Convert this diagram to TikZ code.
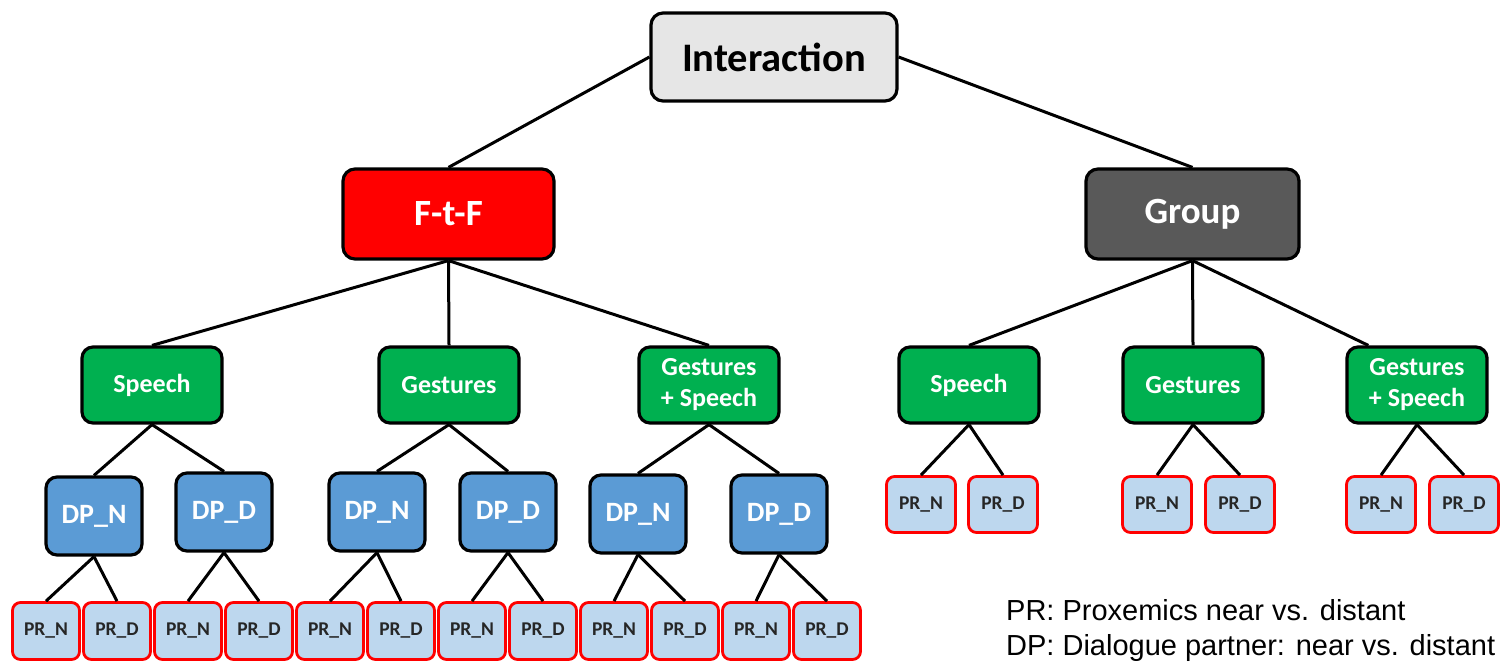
\documentclass[tikz,border=0pt]{standalone}
\usepackage{fontspec}
\setmainfont{Carlito}
\newfontfamily\legendfont{Liberation Sans}
\usetikzlibrary{calc}
\definecolor{intgray}{HTML}{E6E6E6}
\definecolor{grpgray}{HTML}{595959}
\definecolor{boxgreen}{HTML}{00B050}
\definecolor{boxblue}{HTML}{5B9BD5}
\definecolor{prblue}{HTML}{BDD7EE}
\definecolor{prred}{HTML}{FF0000}
\tikzset{
  base/.style={rectangle, rounded corners=12pt, draw=black, line width=3.2pt, inner sep=0pt, align=center},
  topbox/.style={base, minimum width=246pt, minimum height=88pt, fill=intgray, text=black,
    font=\fontsize{40.5}{45}\selectfont\bfseries},
  midbox/.style={base, minimum width=211pt, minimum height=90pt, text=white,
    font=\fontsize{37}{42}\selectfont\bfseries},
  greenbox/.style={base, rounded corners=11pt, minimum width=140pt, minimum height=76pt, fill=boxgreen, text=white,
    font=\fontsize{26}{31}\selectfont\bfseries},
  dpbox/.style={base, rounded corners=11pt, minimum width=96pt, minimum height=78pt, fill=boxblue, text=white,
    font=\fontsize{28}{32}\selectfont\bfseries},
  prbox/.style={rectangle, rounded corners=8pt, draw=prred, line width=2.8pt, fill=prblue, inner sep=0pt,
    minimum width=67pt, minimum height=57pt, text=black!85, font=\fontsize{19.5}{22}\selectfont\bfseries},
  link/.style={draw=black, line width=3pt},
}
\begin{document}
\begin{tikzpicture}[x=1pt,y=-1pt]
\useasboundingbox (0,0) rectangle (1503,662);
% top levels
\node[topbox] (int) at (774,57) {Interaction};
\node[midbox, fill=red] (ftf) at (448.5,214) {\raisebox{-2pt}{F-t-F}};
\node[midbox, fill=grpgray, minimum width=213pt] (grp) at (1192.5,214) {\raisebox{-3pt}{Group}};
% green level
\node[greenbox] (sp1) at (152,385) {Speech};
\node[greenbox] (ge1) at (449,385) {Gestures};
\node[greenbox] (gs1) at (709,385) {Gestures\\+ Speech};
\node[greenbox] (sp2) at (969,385) {Speech};
\node[greenbox] (ge2) at (1193,385) {Gestures};
\node[greenbox] (gs2) at (1417,385) {Gestures\\+ Speech};
% DP level
\node[dpbox] (dn1) at (94,516) {DP\_N};
\node[dpbox] (dd1) at (224,512) {DP\_D};
\node[dpbox] (dn2) at (377,512) {DP\_N};
\node[dpbox] (dd2) at (508,512) {DP\_D};
\node[dpbox] (dn3) at (638,514) {DP\_N};
\node[dpbox] (dd3) at (779,514) {DP\_D};
% PR bottom row
\node[prbox] (p1) at (46,631) {PR\_N};
\node[prbox] (p2) at (117,631) {PR\_D};
\node[prbox] (p3) at (188,631) {PR\_N};
\node[prbox] (p4) at (259,631) {PR\_D};
\node[prbox] (p5) at (330,631) {PR\_N};
\node[prbox] (p6) at (401,631) {PR\_D};
\node[prbox] (p7) at (472,631) {PR\_N};
\node[prbox] (p8) at (543,631) {PR\_D};
\node[prbox] (p9) at (614,631) {PR\_N};
\node[prbox] (p10) at (685,631) {PR\_D};
\node[prbox] (p11) at (756,631) {PR\_N};
\node[prbox] (p12) at (827,631) {PR\_D};
% PR right row
\node[prbox, minimum width=69pt, minimum height=56pt] (q1) at (921,504.5) {PR\_N};
\node[prbox, minimum width=69pt, minimum height=56pt] (q2) at (1003,504.5) {PR\_D};
\node[prbox, minimum width=69pt, minimum height=56pt] (q3) at (1157,504.5) {PR\_N};
\node[prbox, minimum width=69pt, minimum height=56pt] (q4) at (1240,504.5) {PR\_D};
\node[prbox, minimum width=69pt, minimum height=56pt] (q5) at (1381,504.5) {PR\_N};
\node[prbox, minimum width=69pt, minimum height=56pt] (q6) at (1464,504.5) {PR\_D};
% legend
\node[anchor=base west, inner sep=0pt, align=left, font=\legendfont\fontsize{29}{35}\selectfont] (leg) at (1006,655)
  {PR: Proxemics near vs. distant\\DP: Dialogue partner: near vs. distant};
% connectors
\draw[link] (int.west) -- (ftf.north);
\draw[link] (int.east) -- (grp.north);
\draw[link] (ftf.south) -- (sp1.north);
\draw[link] (ftf.south) -- (ge1.north);
\draw[link] (ftf.south) -- (gs1.north);
\draw[link] (grp.south) -- (sp2.north);
\draw[link] (grp.south) -- (ge2.north);
\draw[link] (grp.south) -- ($(gs2.north west)!0.16!(gs2.north east)$);
\draw[link] (sp1.south) -- (dn1.north);
\draw[link] (sp1.south) -- (dd1.north);
\draw[link] (ge1.south) -- (dn2.north);
\draw[link] (ge1.south) -- (dd2.north);
\draw[link] (gs1.south) -- (dn3.north);
\draw[link] (gs1.south) -- (dd3.north);
\draw[link] (dn1.south) -- (p1.north);
\draw[link] (dn1.south) -- (p2.north);
\draw[link] (dd1.south) -- (p3.north);
\draw[link] (dd1.south) -- (p4.north);
\draw[link] (dn2.south) -- (p5.north);
\draw[link] (dn2.south) -- (p6.north);
\draw[link] (dd2.south) -- (p7.north);
\draw[link] (dd2.south) -- (p8.north);
\draw[link] (dn3.south) -- (p9.north);
\draw[link] (dn3.south) -- (p10.north);
\draw[link] (dd3.south) -- (p11.north);
\draw[link] (dd3.south) -- (p12.north);
\draw[link] (sp2.south) -- (q1.north);
\draw[link] (sp2.south) -- (q2.north);
\draw[link] (ge2.south) -- (q3.north);
\draw[link] (ge2.south) -- (q4.north);
\draw[link] (gs2.south) -- (q5.north);
\draw[link] (gs2.south) -- (q6.north);
\end{tikzpicture}
\end{document}
